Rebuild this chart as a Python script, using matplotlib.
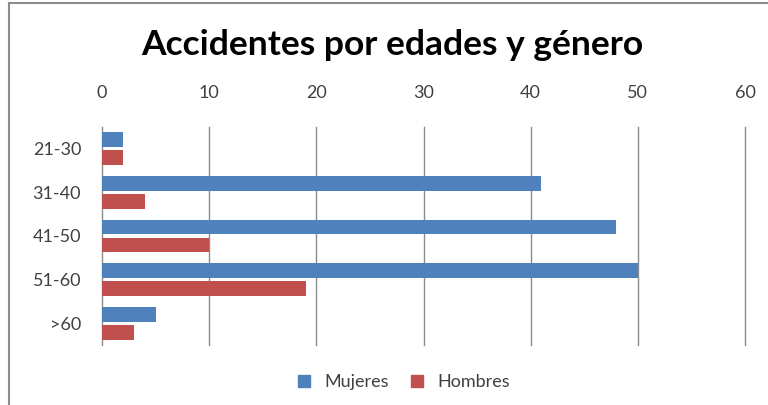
import matplotlib
matplotlib.use("Agg")
import matplotlib.pyplot as plt
import numpy as np
from matplotlib.lines import Line2D

categories = ["21-30", "31-40", "41-50", "51-60", ">60"]
mujeres = [2, 41, 48, 50, 5]
hombres = [2, 4, 10, 19, 3]
xticks = [0, 10, 20, 30, 40, 50, 60]

plt.rcParams['font.family'] = ['Lato', 'DejaVu Sans']

fig = plt.figure(figsize=(7.68, 4.05), dpi=100)
ax = fig.add_axes([102/768, 1-345/405, (745-102)/768, (345-127)/405])

y = np.arange(len(categories))
h = 0.34
off = 0.205
ax.barh(y - off, mujeres, height=h, color='#4F81BD', label='Mujeres', zorder=3)
ax.barh(y + off, hombres, height=h, color='#C0504D', label='Hombres', zorder=3)

ax.set_xlim(0, 60)
ax.set_ylim(len(categories) - 0.5, -0.5)
ax.set_yticks(y)
ax.set_yticklabels(categories)
ax.set_xticks(xticks)
ax.xaxis.tick_top()
ax.tick_params(axis='x', length=0, pad=19, labelsize=13, colors='#404040')
ax.tick_params(axis='y', length=0, pad=15, labelsize=13, colors='#404040')
ax.grid(axis='x', color='#8c8c8c', linewidth=1, zorder=0)
for gl in ax.get_xgridlines():
    gl.set_clip_on(False)
for s in ax.spines.values():
    s.set_visible(False)

fig.text(392/768, 1-45/405, 'Accidentes por edades y género', ha='center', va='center',
         fontsize=25.5, fontweight='bold', color='black')

leg = fig.legend(handles=[
    Line2D([], [], marker='s', linestyle='none', color='#4F81BD', markersize=8, label='Mujeres'),
    Line2D([], [], marker='s', linestyle='none', color='#C0504D', markersize=8, label='Hombres')],
    loc='center', bbox_to_anchor=(398/768, 1-382/405), ncol=2, frameon=False,
    fontsize=13, handletextpad=0.1, columnspacing=0.6)
for t in leg.get_texts():
    t.set_color('#404040')

fig.add_artist(Line2D([9/768, 9/768], [0, 1-3/405], transform=fig.transFigure, color='#8c8c8c', linewidth=1.5))
fig.add_artist(Line2D([9/768, 1], [1-3/405, 1-3/405], transform=fig.transFigure, color='#8c8c8c', linewidth=1.5))

fig.savefig('out.png', dpi=100)
